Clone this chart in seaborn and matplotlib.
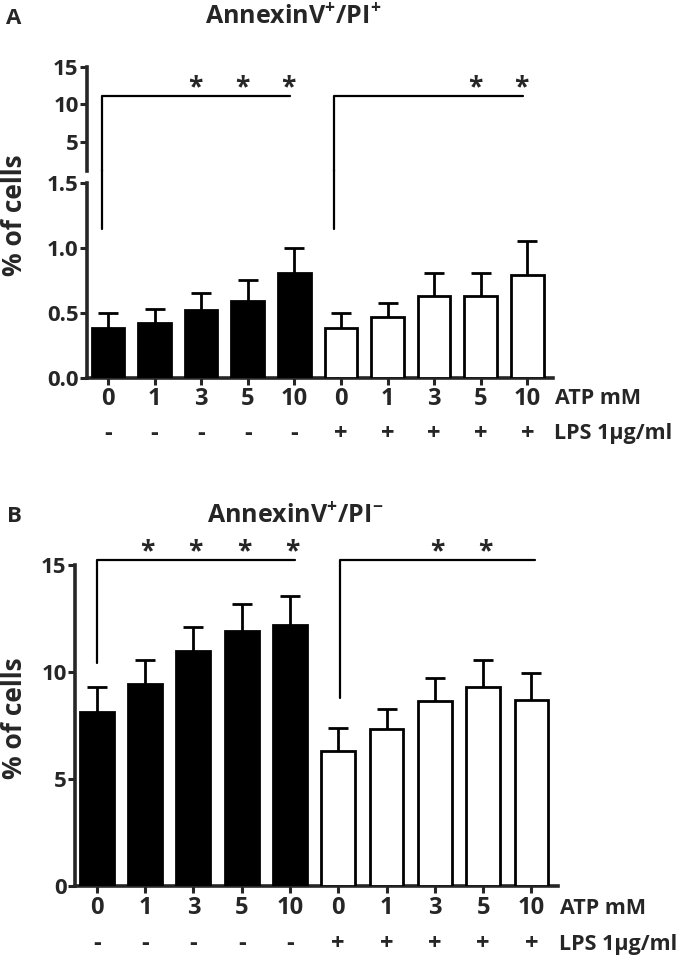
import matplotlib
matplotlib.use("Agg")
import matplotlib.pyplot as plt
import seaborn as sns
import pandas as pd

sns.set_style("ticks")
plt.rcParams['font.family'] = ['Open Sans', 'DejaVu Sans']
plt.rcParams['font.weight'] = 'bold'
plt.rcParams['mathtext.fontset'] = 'custom'
plt.rcParams['mathtext.rm'] = 'Open Sans'
plt.rcParams['mathtext.bf'] = 'Open Sans:bold'

# ---- data ----
atp = ["0", "1", "3", "5", "10", "0", "1", "3", "5", "10"]
lps = ["-", "-", "-", "-", "-", "+", "+", "+", "+", "+"]
group = ["ctrl"] * 5 + ["lps"] * 5

a_mean = [0.385, 0.42, 0.52, 0.59, 0.81, 0.385, 0.47, 0.63, 0.63, 0.79]
a_sem = [0.115, 0.11, 0.13, 0.16, 0.19, 0.115, 0.11, 0.18, 0.18, 0.26]
a_stars = [2, 3, 4, 8, 9]

b_mean = [8.13, 9.44, 10.98, 11.9, 12.2, 6.3, 7.34, 8.64, 9.3, 8.69]
b_sem = [1.17, 1.12, 1.12, 1.3, 1.35, 1.08, 0.93, 1.08, 1.26, 1.26]
b_stars = [1, 2, 3, 4, 7, 8]

pal = {"ctrl": "black", "lps": "white"}
LW = 2.0
W, H = 686, 961
TICK_FS = 17
ROW_FS = 15.5
YT_FS = 16


def fx(px):
    return px / W


def fy(py):
    return 1 - py / H


def bars(ax, mean, sem):
    df = pd.DataFrame({"pos": range(10), "val": mean, "grp": group})
    sns.barplot(data=df, x="pos", y="val", hue="grp", palette=pal, dodge=False,
                width=0.7, edgecolor="black", linewidth=LW, errorbar=None,
                legend=False, ax=ax, zorder=3)
    eb = ax.errorbar(range(10), mean, yerr=[[0] * 10, sem], fmt="none",
                     ecolor="black", elinewidth=LW, capsize=7, capthick=LW, zorder=2)
    eb[1][0].set_visible(False)
    ax.set_xlim(-0.45, 9.55)
    ax.set_xlabel("")
    ax.set_ylabel("")
    for s in ["top", "right"]:
        ax.spines[s].set_visible(False)
    for s in ["left", "bottom"]:
        ax.spines[s].set_linewidth(2.6)
    ax.tick_params(axis="both", width=2.2, length=5, direction="out")
    ax.set_xticks(range(10))
    ax.set_xticklabels([])


def xrows(ax, d1, d2):
    for i in range(10):
        ax.annotate(atp[i], (i, 0), xycoords=("data", "axes fraction"),
                    xytext=(0, d1), textcoords="offset points",
                    ha="center", va="center", fontsize=TICK_FS, fontweight="bold")
        ax.annotate(lps[i], (i, 0), xycoords=("data", "axes fraction"),
                    xytext=(0, d2), textcoords="offset points",
                    ha="center", va="center", fontsize=TICK_FS, fontweight="bold")
    ax.annotate("ATP mM", (9.6, 0), xycoords=("data", "axes fraction"),
                xytext=(0, d1), textcoords="offset points",
                ha="left", va="center", fontsize=ROW_FS, fontweight="bold")
    ax.annotate("LPS 1\u00b5g/ml", (9.58, 0), xycoords=("data", "axes fraction"),
                xytext=(0, d2), textcoords="offset points",
                ha="left", va="center", fontsize=ROW_FS, fontweight="bold")


def star(ax, x, y):
    ax.text(x, y, "*", ha="center", va="baseline", fontsize=19, fontweight="bold")


fig = plt.figure(figsize=(6.86, 9.61), dpi=100)

# ---------- panel A (broken axis) ----------
axA = fig.add_axes([fx(87), fy(378), fx(553) - fx(87), fy(183) - fy(378)])
axAu = fig.add_axes([fx(87), fy(171), fx(553) - fx(87), fy(67) - fy(171)])
bars(axA, a_mean, a_sem)
axA.set_ylim(0, 1.5)
axA.set_yticks([0, 0.5, 1.0, 1.5])
axA.set_yticklabels(["0.0", "0.5", "1.0", "1.5"], fontsize=YT_FS, fontweight="bold")
xrows(axA, -15, -40)

axAu.set_xlim(-0.45, 9.55)
axAu.set_ylim(1.13, 15)
axAu.set_yticks([5, 10, 15])
axAu.set_yticklabels(["5", "10", "15"], fontsize=YT_FS, fontweight="bold")
axAu.set_xticks([])
axAu.set_facecolor("none")
for s in ["top", "right", "bottom"]:
    axAu.spines[s].set_visible(False)
axAu.spines["left"].set_linewidth(2.6)
axAu.tick_params(axis="y", width=2.2, length=5, direction="out", pad=1)
axA.tick_params(axis="y", pad=1)

# brackets A
for x0, x1 in [(-0.13, 3.9), (4.85, 8.9)]:
    axAu.plot([x0, x0, x1], [1.13, 11.1, 11.1], color="black", lw=1.6, clip_on=False)
    axA.plot([x0, x0], [1.15, 1.6], color="black", lw=1.6, clip_on=False)
for i in a_stars:
    star(axAu, i - 0.12, 11.2)

fig.text(fx(14), fy(18), "A", ha="center", va="center", fontsize=16, fontweight="bold")
fig.text(fx(293), fy(18), r"AnnexinV$^{\mathbf{+}}$/PI$^{\mathbf{+}}$",
         ha="center", va="center", fontsize=18, fontweight="bold")
fig.text(fx(15), fy(215), "% of cells", rotation=90, ha="center", va="center",
         fontsize=19, fontweight="bold")

# ---------- panel B ----------
axB = fig.add_axes([fx(75), fy(886), fx(558) - fx(75), fy(565) - fy(886)])
bars(axB, b_mean, b_sem)
axB.set_ylim(0, 15)
axB.set_yticks([0, 5, 10, 15])
axB.set_yticklabels(["0", "5", "10", "15"], fontsize=YT_FS, fontweight="bold")
axB.tick_params(axis="y", pad=1)
xrows(axB, -16, -42)

for x0, x1, yb in [(0, 4.1, 10.4), (5.03, 9.07, 8.8)]:
    axB.plot([x0, x0, x1], [yb, 15.23, 15.23], color="black", lw=1.6, clip_on=False)
for i in b_stars:
    star(axB, i + 0.05, 15.27)

fig.text(fx(14), fy(516), "B", ha="center", va="center", fontsize=16, fontweight="bold")
fig.text(fx(295), fy(517), r"AnnexinV$^{\mathbf{+}}$/PI$^{\mathbf{-}}$",
         ha="center", va="center", fontsize=18, fontweight="bold")
fig.text(fx(15), fy(718), "% of cells", rotation=90, ha="center", va="center",
         fontsize=19, fontweight="bold")

fig.savefig("out.png", dpi=100)
